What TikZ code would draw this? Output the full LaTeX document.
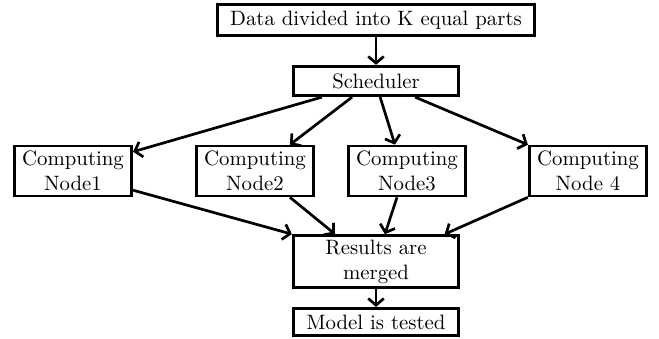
\documentclass[tikz,border=0pt]{standalone}
\usepackage{tikz}
\usetikzlibrary{arrows.meta}

\begin{document}
\begin{tikzpicture}[
      x=0.4808pt, y=-0.4808pt,
      box/.style={draw, line width=1.3pt, align=center, inner xsep=3pt, inner ysep=2pt, font=\normalsize},
      wide/.style={box, minimum width=79.6pt},
      cnode/.style={box, minimum width=56.5pt, minimum height=24pt},
      arr/.style={line width=1.3pt, -{Straight Barb[length=3.2pt, width=7.5pt, line width=1.3pt]}}
    ]
    \useasboundingbox (0,0) rectangle (659,339);

    \node[box, minimum width=152.7pt, minimum height=15.1pt] (data) at (376,20) {Data divided into K equal parts};
    \node[wide, minimum height=14.2pt] (sched) at (376,81) {Scheduler};

    \node[cnode] (cn1) at (73,171) {Computing\\Node1};
    \node[cnode] (cn2) at (255,171) {Computing\\Node2};
    \node[cnode] (cn3) at (407,171) {Computing\\Node3};
    \node[cnode] (cn4) at (588,171) {Computing\\Node 4};

    \node[wide, minimum height=24.3pt] (merge) at (376,261.5) {Results are\\merged};
    \node[wide, minimum height=13.2pt] (test) at (376,322) {Model is tested};

    \draw[arr] (data) -- (sched);
    \draw[arr] ([xshift=-26pt]sched.south) -- ([yshift=-3.4pt]cn1.north east);
    \draw[arr] ([xshift=-11.5pt]sched.south) -- ([xshift=16.8pt]cn2.north);
    \draw[arr] ([xshift=2pt]sched.south) -- ([xshift=-5.8pt]cn3.north);
    \draw[arr] ([xshift=18.8pt]sched.south) -- (cn4.north west);
    \draw[arr] ([yshift=3.4pt]cn1.south east) -- (merge.north west);
    \draw[arr] ([xshift=16.8pt]cn2.south) -- ([xshift=-19.7pt]merge.north);
    \draw[arr] ([xshift=-4.8pt]cn3.south) -- ([xshift=4.3pt]merge.north);
    \draw[arr] (cn4.south west) -- ([xshift=33pt]merge.north);
    \draw[arr] (merge) -- (test);
  \end{tikzpicture}
\end{document}
